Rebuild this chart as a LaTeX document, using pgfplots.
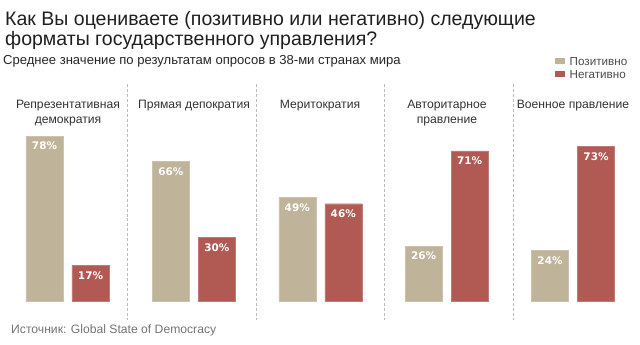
\documentclass[border=0pt]{standalone}
\usepackage{fontspec}
\setmainfont{Liberation Sans}
\newfontfamily\pctfont{DejaVu Sans}
\usepackage{pgfplots}
\pgfplotsset{compat=1.18}
\definecolor{cpos}{HTML}{BFB39A}
\definecolor{cneg}{HTML}{B05A53}
\definecolor{csep}{HTML}{BBBBBB}

\begin{document}
\begin{tikzpicture}
\useasboundingbox (0,0) rectangle (640bp,345bp);
\begin{axis}[
  at={(0,0)}, anchor=south west,
  scale only axis, width=640bp, height=345bp,
  xmin=-0.5341, xmax=4.5302, ymin=-20.80, ymax=142.32,
  hide axis, clip=false,
  /pgf/number format/assume math mode=true,
  ybar, bar width=37bp, ybar=9bp,
  nodes near coords={\pgfmathprintnumber{\pgfplotspointmeta}\%},
  every node near coord/.append style={anchor=north, inner sep=0pt, yshift=-6bp,
    text=white, font=\pctfont\bfseries\fontsize{10.5}{12}\selectfont},
]
\addplot[fill=cpos, draw=cpos!80!white] coordinates {(0,78) (1,66) (2,49) (3,26) (4,24)};
\addplot[fill=cneg, draw=cneg!80!white] coordinates {(0,17) (1,30) (2,46) (3,71) (4,73)};
\end{axis}
\begin{scope}[x=1bp, y=-1bp, shift={(0,345bp)}]
  % title
  \node[anchor=base west, inner sep=0, text=black!88, font=\fontsize{19.6}{22}\selectfont] at (5,26) {Как Вы оцениваете (позитивно или негативно) следующие};
  \node[anchor=base west, inner sep=0, text=black!88, font=\fontsize{19.6}{22}\selectfont] at (5,46) {форматы государственного управления?};
  \node[anchor=base west, inner sep=0, text=black!85, font=\fontsize{13.1}{15}\selectfont] at (3,65) {Среднее значение по результатам опросов в 38-ми странах мира};
  % legend
  \fill[cpos] (555,58.5) rectangle (565,64.5);
  \fill[cneg] (555,71.5) rectangle (565,77.5);
  \node[anchor=base west, inner sep=0, text=black!70, font=\fontsize{11.7}{13}\selectfont] at (569.5,66) {Позитивно};
  \node[anchor=base west, inner sep=0, text=black!70, font=\fontsize{11.7}{13}\selectfont] at (569.5,79) {Негативно};
  % separators
  \foreach \xx in {127,256,384,513} {\draw[csep, densely dashed, line width=0.6pt] (\xx,84) -- (\xx,320);}
  % category labels
  \begin{scope}[every node/.style={anchor=base, inner sep=0, text=black!80, font=\fontsize{12.2}{15}\selectfont, align=center}]
    \node at (68,109) {Репрезентативная};
    \node at (68,124) {демократия};
    \node at (194,109) {Прямая депократия};
    \node at (320,109) {Меритократия};
    \node at (447,109) {Авторитарное};
    \node at (447,124) {правление};
    \node at (573,109) {Военное правление};
  \end{scope}
  % source
  \node[anchor=base west, inner sep=0, text=black!55, font=\fontsize{12.2}{14}\selectfont] at (11,334) {Источник: Global State of Democracy};
\end{scope}
\end{tikzpicture}
\end{document}
